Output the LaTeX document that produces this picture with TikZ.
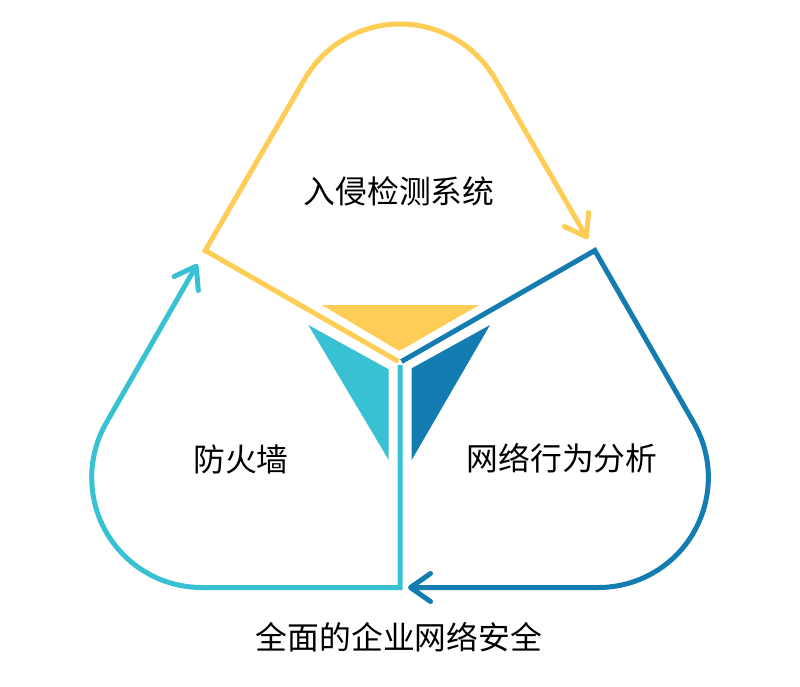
\documentclass[tikz,border=0pt]{standalone}
\usepackage{fontspec}
\newfontfamily\cjk{Noto Sans CJK SC}
\usetikzlibrary{arrows.meta}
\definecolor{cy}{HTML}{FECD55}
\definecolor{cc}{HTML}{38C1D2}
\definecolor{cb}{HTML}{137CB0}
\begin{document}
\begin{tikzpicture}[x=1pt,y=-1pt,
  ln/.style={line width=5pt},
  tipa/.style={-{Straight Barb[length=20pt,width=28pt,round]}},
  lbl/.style={font=\cjk\fontsize{31.8}{36}\selectfont, text=black, inner sep=0pt, anchor=center}]
\useasboundingbox (0,0) rectangle (800,686);
% center pieces
\fill[cy] (321.7,305) -- (479.3,305) -- (399.3,351) -- cycle;
\fill[cc] (308.3,325) -- (388.7,369.3) -- (388.7,460) -- cycle;
\fill[cb] (490,325) -- (411.7,368.3) -- (411.7,460) -- cycle;
% key points
\coordinate (ys) at (398.5,361.5);
\coordinate (bs) at (401.5,361.5);
\coordinate (cs) at (400,365);
\coordinate (fL) at (205.2,250.5);
\coordinate (fR) at (594.8,250.5);
\coordinate (fB) at (400,587.5);
\coordinate (tT1) at (304.7,79);
\coordinate (tR1) at (693.6,422.5);
\coordinate (tB1) at (201.7,587.5);
\coordinate (ay) at (587.7,239);
\coordinate (ab) at (408,587.5);
\coordinate (ac) at (197.4,264);
% loops
\draw[ln,cy,tipa] (ys) -- (fL) -- (tT1) arc[start angle=210,end angle=330,radius=110] -- (ay);
\draw[ln,cb,tipa] (bs) -- (fR) -- (tR1) arc[start angle=330,end angle=450,radius=110] -- (ab);
\draw[ln,cc,tipa] (cs) -- (fB) -- (tB1) arc[start angle=90,end angle=210,radius=110] -- (ac);
% labels
\node[lbl] (l1) at (399,191) {入侵检测系统};
\node[lbl] (l2) at (241,459) {防火墙};
\node[lbl] (l3) at (562,458) {网络行为分析};
\node[lbl] (l4) at (399,637) {全面的企业网络安全};
\end{tikzpicture}
\end{document}
